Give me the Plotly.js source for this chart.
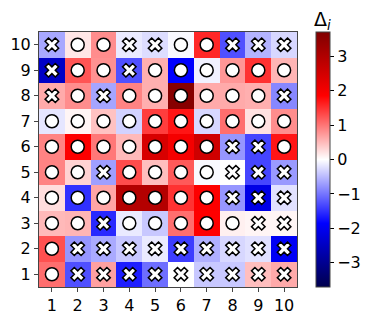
<!DOCTYPE html>
<html>
<head>
<script src="https://cdn.plot.ly/plotly-3.0.1.min.js"></script>
<style>body{margin:0;padding:0;} #plot{width:374px;height:324px;}</style>
</head>
<body>
<div id="plot"></div>
<script>
// grid positions
var cols = [1, 2, 3, 4, 5, 6, 7, 8, 9, 10];
var rows = [1, 2, 3, 4, 5, 6, 7, 8, 9, 10];

// Delta_i values, row 1 (bottom) to row 10 (top)
var delta = [
    [1.05, -1.27, 0.69, -1.63, -1.05, 0.0, -0.40, -0.40, 0.47, 0.62],
    [1.27, -0.76, -0.62, -0.40, -0.15, -1.41, -0.58, -0.29, -0.22, -1.95],
    [0.51, 0.54, -1.56, -0.15, -0.40, 1.05, 1.85, 0.11, 0.07, 0.07],
    [0.25, -1.50, 0.65, 2.94, 2.94, 1.49, 1.88, -0.76, -2.11, -0.22],
    [0.90, 0.33, -0.70, 1.30, 0.47, 1.20, -0.04, 0.0, -1.35, -0.73],
    [0.90, 1.88, 0.98, 0.51, 2.42, 2.0, 2.55, -0.76, -1.35, 1.70],
    [-0.18, 0.07, 0.44, -0.33, 1.41, 1.70, -0.29, 1.05, 0.22, 0.83],
    [0.62, 0.83, -0.65, 0.90, 0.58, 3.6, 0.62, 0.62, 0.58, -0.87],
    [-2.44, 1.23, 0.80, -1.27, 0.58, -1.85, -0.10, 0.76, 1.49, 0.54],
    [-0.63, 0.18, 0.83, -0.15, -0.25, -0.04, 1.57, -1.27, -0.55, -0.29]
];

// marker kind per cell: o = circle, x = cross
var kind = [
    ["o", "x", "x", "x", "x", "x", "x", "x", "x", "x"],
    ["o", "x", "x", "x", "x", "x", "x", "x", "x", "x"],
    ["o", "o", "x", "o", "o", "o", "o", "o", "x", "x"],
    ["o", "o", "o", "o", "o", "o", "o", "x", "x", "x"],
    ["o", "o", "x", "o", "o", "o", "o", "x", "x", "x"],
    ["o", "o", "o", "o", "o", "o", "o", "x", "x", "o"],
    ["o", "o", "o", "o", "o", "o", "o", "o", "o", "o"],
    ["x", "o", "x", "o", "o", "o", "o", "o", "o", "x"],
    ["x", "o", "o", "x", "o", "o", "o", "o", "o", "o"],
    ["x", "o", "o", "x", "x", "o", "o", "x", "x", "x"]
];

var cbTicks = [-3, -2, -1, 0, 1, 2, 3];

var seismic = [
    [0, 'rgb(0,0,77)'],
    [0.25, 'rgb(0,0,255)'],
    [0.5, 'rgb(255,255,255)'],
    [0.75, 'rgb(255,0,0)'],
    [1, 'rgb(128,0,0)']
];

var heat = {
    type: 'heatmap',
    x: cols,
    y: rows,
    z: delta,
    zmin: -3.7,
    zmax: 3.7,
    colorscale: seismic,
    hoverinfo: 'skip',
    colorbar: {
        x: 1.074, xanchor: 'left', xpad: 0,
        y: 0.5, yanchor: 'middle', ypad: 0,
        len: 1, thickness: 14,
        outlinewidth: 1, outlinecolor: '#444',
        tickvals: cbTicks,
        ticks: 'outside', ticklen: 4, tickcolor: '#000',
        tickfont: {size: 16, color: '#000'}
    }
};

var cx = [], cy = [], xx = [], xy = [];
for (var r = 0; r < rows.length; r++) {
    for (var c = 0; c < cols.length; c++) {
        if (kind[r][c] === 'o') { cx.push(cols[c]); cy.push(rows[r]); }
        else { xx.push(cols[c]); xy.push(rows[r]); }
    }
}

var circles = {
    type: 'scatter', mode: 'markers', x: cx, y: cy, hoverinfo: 'skip',
    marker: {symbol: 'circle', size: 13, color: '#fff', line: {color: '#000', width: 1.5}}
};
var crosses = {
    type: 'scatter', mode: 'markers', x: xx, y: xy, hoverinfo: 'skip',
    marker: {symbol: 'x', size: 12, color: '#fff', line: {color: '#000', width: 1.5}}
};

var layout = {
    width: 374,
    height: 324,
    margin: {l: 39, r: 77, t: 32, b: 37},
    paper_bgcolor: '#fff',
    plot_bgcolor: '#fff',
    showlegend: false,
    font: {family: 'DejaVu Sans', size: 16, color: '#000'},
    xaxis: {
        range: [0.5, 10.5], tickvals: cols, ticks: 'outside', ticklen: 4,
        showgrid: false, zeroline: false, showline: true, mirror: true,
        linecolor: '#444', linewidth: 1
    },
    yaxis: {
        range: [0.5, 10.5], tickvals: rows, ticks: 'outside', ticklen: 4,
        showgrid: false, zeroline: false, showline: true, mirror: true,
        linecolor: '#444', linewidth: 1
    },
    annotations: [{
        text: 'Δ<sub><i>i</i></sub>', xref: 'paper', yref: 'paper',
        x: 1.10, y: 1.045, xanchor: 'center', yanchor: 'middle',
        showarrow: false, font: {size: 19, color: '#000'}
    }]
};

Plotly.newPlot('plot', [heat, circles, crosses], layout, {displayModeBar: false, staticPlot: true});
</script>
</body>
</html>
